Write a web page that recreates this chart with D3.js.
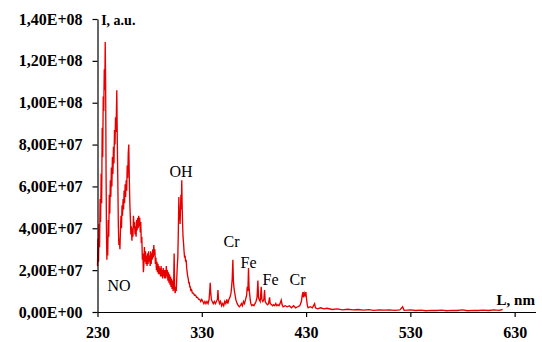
<!DOCTYPE html>
<html>
<head>
<meta charset="utf-8">
<script src="https://cdn.jsdelivr.net/npm/d3@7"></script>
<style>
body { margin: 0; background: #fff; }
svg { display: block; }
.tick text { font-family: "Liberation Serif", "Times New Roman", serif; font-weight: bold; font-size: 16px; fill: #000; }
.note { font-family: "Liberation Serif", "Times New Roman", serif; font-size: 16px; fill: #000; }
</style>
</head>
<body>
<svg width="542" height="342"></svg>
<script>
// spectrum: [wavelength nm, intensity in 1E+07 units]
var spectrum = [
[230.0,2.2],[230.5,3.5],[231.0,2.4],[231.5,4.2],[232.0,3.1],[232.5,5.4],[233.0,4.3],[233.5,6.6],[234.0,5.2],[234.5,8.8],
[235.0,7.4],[235.5,10.3],[236.0,9.6],[236.5,11.6],[237.0,10.6],[237.4,12.9],[237.8,10.9],[238.2,6.8],[238.6,3.9],[239.0,2.5],
[239.4,3.6],[239.8,2.7],[240.3,4.4],[240.8,3.6],[241.3,5.6],[241.8,4.7],[242.3,6.3],[242.8,5.5],[243.3,6.9],[243.8,6.0],
[244.3,7.4],[244.8,6.6],[245.3,7.9],[245.8,7.1],[246.3,8.7],[246.8,8.0],[247.3,9.3],[247.8,8.6],[248.5,10.6],[249.0,8.1],
[249.5,6.2],[250.0,4.1],[250.5,3.2],[251.0,3.5],[251.5,3.0],[252.0,3.9],[252.5,4.6],[253.0,4.0],[253.5,5.1],[254.0,4.6],
[254.5,5.4],[255.0,4.9],[255.5,5.8],[256.0,5.2],[256.5,6.1],[257.0,5.5],[257.5,6.3],[258.0,5.8],[258.5,7.0],[259.0,6.4],
[259.5,7.6],[260.0,8.0],[260.5,6.4],[261.0,5.2],[261.5,4.5],[262.0,3.7],[262.5,4.1],[263.0,3.4],[263.5,4.0],[264.0,3.6],
[264.5,4.6],[265.0,4.0],[265.5,4.3],[266.0,3.7],[266.5,4.1],[267.0,3.6],[267.5,4.4],[268.0,3.9],[268.5,4.5],[269.0,4.0],
[269.5,4.6],[270.0,4.1],[270.5,4.5],[271.0,3.8],[271.5,4.3],[272.0,3.3],[272.5,3.6],[273.0,2.5],[273.5,2.8],[274.0,1.9],
[274.5,2.3],[275.0,3.1],[275.5,2.4],[276.0,2.9],[276.5,2.3],[277.0,2.7],[277.5,2.2],[278.0,2.8],[278.5,2.3],[279.0,2.9],
[279.5,2.4],[280.0,2.7],[280.5,2.2],[281.0,2.9],[281.5,2.3],[282.0,2.8],[282.5,2.5],[283.0,3.0],[283.5,2.6],[284.0,3.2],
[284.5,2.7],[285.0,3.0],[285.5,2.3],[286.0,2.6],[286.5,2.0],[287.0,2.4],[287.5,1.9],[288.0,2.3],[288.5,1.8],[289.0,2.2],
[289.5,1.8],[290.0,2.1],[290.5,1.7],[291.0,2.2],[291.5,1.7],[292.0,2.0],[292.5,1.6],[293.0,2.1],[293.5,1.7],[294.0,2.0],
[294.5,1.6],[295.0,2.0],[295.5,1.6],[296.0,2.2],[296.5,1.7],[297.0,2.0],[297.5,1.5],[298.0,1.9],[298.5,1.4],[299.0,1.8],
[299.5,1.3],[300.0,1.7],[300.5,1.2],[301.0,1.6],[301.5,1.1],[302.0,1.5],[302.5,1.0],[303.0,1.3],[303.5,2.8],[304.0,1.1],
[304.5,0.9],[305.0,1.2],[305.5,1.0],[306.0,1.6],[306.5,2.2],[307.0,2.6],[307.5,3.8],[308.0,5.5],[308.4,4.4],[308.8,4.8],
[309.2,4.2],[309.6,5.0],[310.0,5.6],[310.4,4.9],[310.8,6.3],[311.2,5.0],[311.6,4.2],[312.0,3.6],[312.5,3.3],[313.0,2.9],
[313.5,2.6],[314.0,2.7],[314.5,2.4],[315.0,2.5],[315.5,2.1],[316.0,1.9],[316.5,1.7],[317.0,1.6],[317.5,1.4],[318.0,1.4],
[318.5,1.2],[319.0,1.2],[319.5,1.0],[320.0,1.1],[321.0,0.9],[322.0,0.9],[323.0,0.8],[324.0,0.8],[325.0,0.7],[326.0,0.7],
[327.0,0.6],[328.0,0.6],[329.0,0.5],[330.0,0.6],[331.0,0.5],[332.0,0.4],[333.0,0.5],[334.0,0.4],[335.0,0.5],[336.0,0.4],
[337.0,0.6],[337.6,1.0],[338.1,1.4],[338.6,0.9],[339.2,0.6],[340.0,0.5],[341.0,0.4],[342.0,0.5],[343.0,0.4],[344.0,0.5],
[345.0,0.6],[345.5,1.05],[346.0,0.6],[347.0,0.4],[348.0,0.5],[349.0,0.3],[350.0,0.4],[351.0,0.3],[352.0,0.5],[353.0,0.4],
[354.0,0.6],[355.0,0.4],[356.0,0.6],[357.0,0.7],[358.0,0.9],[358.6,1.2],[359.2,1.6],[359.8,2.5],[360.3,1.5],[360.8,1.2],
[361.3,1.0],[362.0,0.8],[362.6,0.6],[363.2,0.5],[364.0,0.4],[365.0,0.3],[366.0,0.25],[367.0,0.3],[368.0,0.4],[369.0,0.3],
[370.0,0.5],[371.0,0.4],[372.0,0.6],[373.0,0.8],[373.6,1.2],[374.2,1.0],[374.8,2.1],[375.3,1.2],[375.8,0.9],[376.4,0.6],
[377.0,0.4],[378.0,0.3],[379.0,0.35],[380.0,0.3],[381.0,0.4],[382.0,0.5],[383.0,0.7],[383.8,1.5],[384.4,0.7],[385.0,0.6],
[386.0,0.5],[387.0,1.2],[387.6,0.6],[388.5,0.5],[389.5,0.6],[390.2,1.05],[390.8,0.5],[392.0,0.4],[393.0,0.35],[394.0,0.4],
[395.0,0.7],[395.6,0.4],[397.0,0.35],[398.0,0.3],[399.0,0.35],[400.0,0.3],[401.0,0.4],[402.0,0.3],[403.0,0.35],[404.0,0.3],
[405.0,0.4],[406.2,0.57],[407.0,0.35],[408.0,0.25],[410.0,0.3],[412.0,0.25],[414.0,0.3],[416.0,0.2],[418.0,0.3],[420.0,0.2],
[422.0,0.25],[424.0,0.3],[425.5,0.5],[426.3,0.8],[427.0,0.95],[427.6,0.7],[428.3,0.9],[429.0,0.8],[429.8,0.95],[430.5,0.6],
[431.3,0.3],[432.0,0.2],[434.0,0.25],[436.0,0.2],[438.2,0.4],[439.0,0.2],[441.0,0.15],[444.0,0.2],[447.0,0.15],[450.0,0.18],
[455.0,0.12],[460.0,0.15],[465.0,0.1],[470.0,0.13],[475.0,0.1],[480.0,0.12],[485.0,0.09],[490.0,0.11],[495.0,0.08],[500.0,0.1],
[505.0,0.09],[510.0,0.1],[515.0,0.08],[520.0,0.1],[522.6,0.25],[524.0,0.08],[530.0,0.1],[535.0,0.07],[540.0,0.09],[545.0,0.06],
[550.0,0.08],[555.0,0.07],[560.0,0.09],[565.0,0.06],[570.0,0.08],[575.0,0.07],[580.0,0.1],[585.0,0.06],[590.0,0.08],[595.0,0.07],
[600.0,0.09],[605.0,0.07],[610.0,0.1],[615.0,0.08],[618.5,0.12]
];
var unit = 1e7;

var xTicks = [230, 330, 430, 530, 630];
var yTicks = [0, 2e7, 4e7, 6e7, 8e7, 1e8, 1.2e8, 1.4e8];

// peak names, anchored in data units (nm, 1E+07)
var peakLabels = [
  {text: "NO", nm: 239.6, v: 1.0},
  {text: "OH", nm: 299.1, v: 6.45},
  {text: "Cr", nm: 350.9, v: 3.1},
  {text: "Fe", nm: 367.2, v: 2.1},
  {text: "Fe", nm: 388.3, v: 1.29},
  {text: "Cr", nm: 414.2, v: 1.29}
];

var svg = d3.select("svg");

var x = d3.scaleLinear()
  .domain([230, 650])
  .range([97.5, 535.5]);

var y = d3.scaleLinear()
  .domain([0, 1.4e8])
  .range([312, 19]);

function sci(v) {
  var s = d3.format(".2e")(v).split("e");
  var e = +s[1];
  return s[0].replace(".", ",") + "E" + (e < 0 ? "-" : "+") + d3.format("02")(Math.abs(e));
}

// spectrum line
var line = d3.line()
  .x(function(d) { return x(d[0]); })
  .y(function(d) { return y(d[1] * unit); });

svg.append("path")
  .datum(spectrum)
  .attr("d", line)
  .attr("fill", "none")
  .attr("stroke", "#e80000")
  .attr("stroke-width", 1.35)
  .attr("stroke-linejoin", "miter");

// axes
svg.append("g")
  .attr("transform", "translate(97.5,0)")
  .call(d3.axisLeft(y).tickValues(yTicks).tickFormat(sci).tickSize(5).tickSizeOuter(0).tickPadding(10));

svg.append("g")
  .attr("transform", "translate(0,312)")
  .call(d3.axisBottom(x).tickValues(xTicks).tickSize(5).tickSizeOuter(0).tickPadding(10));

svg.selectAll(".domain, .tick line").attr("stroke", "#000").attr("stroke-width", 1.2);
svg.selectAll("text").attr("font-family", null).attr("font-size", null);

// axis names
svg.append("text").attr("class", "note")
  .attr("x", x(233.5)).attr("y", y(13.7 * unit))
  .style("font-weight", "bold").style("font-size", "14px")
  .text("I, a.u.");

svg.append("text").attr("class", "note")
  .attr("x", x(612.7)).attr("y", y(0.33 * unit))
  .style("font-weight", "bold").style("font-size", "15px")
  .text("L, nm");

svg.selectAll(".peak")
  .data(peakLabels).enter().append("text")
  .attr("class", "note peak")
  .attr("x", function(d) { return x(d.nm); })
  .attr("y", function(d) { return y(d.v * unit); })
  .text(function(d) { return d.text; });
</script>
</body>
</html>
